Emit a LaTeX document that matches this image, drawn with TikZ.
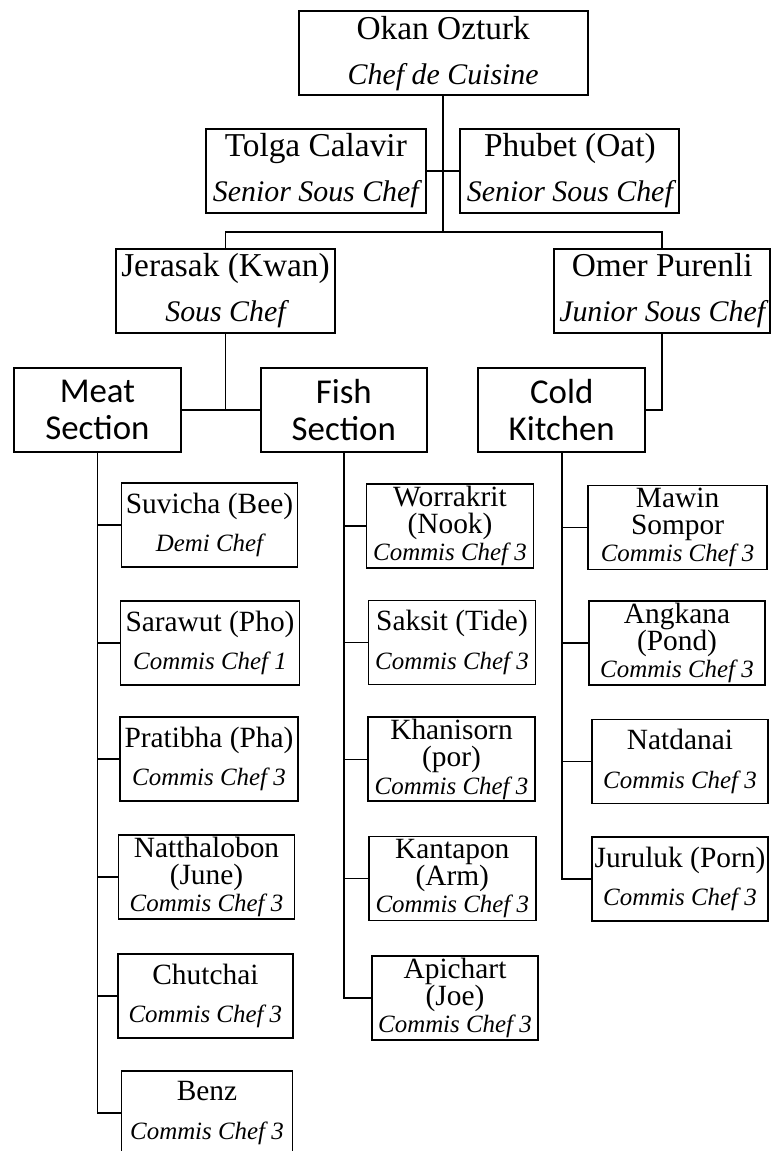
\documentclass[tikz,border=0pt]{standalone}
\usepackage{fontspec}
\setmainfont{Liberation Serif}
\newfontfamily\secfont{Carlito}
\newcommand\PName[1]{{\fontsize{33.5}{45}\selectfont #1}}
\newcommand\PRole[1]{{\fontsize{30}{45}\selectfont\itshape #1}}
\newcommand\QName[1]{{\fontsize{29.5}{38.5}\selectfont #1}}
\newcommand\QRole[1]{{\fontsize{25}{38.5}\selectfont\itshape #1}}
\begin{document}
\begin{tikzpicture}[x=1bp,y=-1bp,
  box/.style={draw, line width=1.9bp, inner sep=0pt, align=center, minimum height=84bp},
  topbox/.style={box, font=\fontsize{30}{45}\selectfont},
  secbox/.style={box, font=\secfont\fontsize{35}{38}\selectfont},
  twoline/.style={box, font=\fontsize{25}{38.5}\selectfont},
  threeline/.style={box, font=\fontsize{25}{27.5}\selectfont},
  conn/.style={line width=1.8bp}]
\useasboundingbox (0,0) rectangle (771,1151);
\fill[white] (0,0) rectangle (771,1151);

% top levels
\node[topbox, minimum width=289bp] (okan) at (443.2,53.2) {\PName{Okan Ozturk}\\\PRole{Chef de Cuisine}};
\node[topbox, minimum width=220bp] (tolga) at (315.8,171) {\PName{Tolga Calavir}\\\PRole{Senior Sous Chef}};
\node[topbox, minimum width=219bp] (phubet) at (569.9,171) {\PName{Phubet (Oat)}\\\PRole{Senior Sous Chef}};
\node[topbox, minimum width=219bp] (jerasak) at (225.5,291) {\PName{Jerasak (Kwan)}\\\PRole{Sous Chef}};
\node[topbox, minimum width=215.6bp] (omer) at (662.2,291) {\PName{Omer Purenli}\\\PRole{Junior Sous Chef}};

% sections
\node[secbox, minimum width=167bp] (meat) at (97.4,410) {Meat\\Section};
\node[secbox, minimum width=166bp] (fish) at (343.8,410) {Fish\\Section};
\node[secbox, minimum width=167bp] (cold) at (561.7,410) {Cold\\Kitchen};

% meat section
\node[twoline, minimum width=176bp] (suvicha) at (209.5,525) {\QName{Suvicha (Bee)}\\\QRole{Demi Chef}};
\node[twoline, minimum width=179bp] (sarawut) at (210,643) {\QName{Sarawut (Pho)}\\\QRole{Commis Chef 1}};
\node[twoline, minimum width=178bp] (pratibha) at (209,758.7) {\QName{Pratibha (Pha)}\\\QRole{Commis Chef 3}};
\node[threeline, minimum width=176bp] (natthalobon) at (206.5,877) {\QName{Natthalobon}\\\QName{(June)}\\\QRole{Commis Chef 3}};
\node[twoline, minimum width=175bp] (chutchai) at (205.4,996) {\QName{Chutchai}\\\QRole{Commis Chef 3}};
\node[twoline, minimum width=171bp] (benz) at (207,1113) {\QName{Benz}\\\QRole{Commis Chef 3}};

% fish section
\node[threeline, minimum width=167bp] (worrakrit) at (450,526) {\QName{Worrakrit}\\\QName{(Nook)}\\\QRole{Commis Chef 3}};
\node[twoline, minimum width=167bp] (saksit) at (452,642.5) {\QName{Saksit (Tide)}\\\QRole{Commis Chef 3}};
\node[threeline, minimum width=167bp] (khanisorn) at (451.5,759.4) {\QName{Khanisorn}\\\QName{(por)}\\\QRole{Commis Chef 3}};
\node[threeline, minimum width=167bp] (kantapon) at (452.3,878.5) {\QName{Kantapon}\\\QName{(Arm)}\\\QRole{Commis Chef 3}};
\node[threeline, minimum width=166bp] (apichart) at (455,998) {\QName{Apichart}\\\QName{(Joe)}\\\QRole{Commis Chef 3}};

% cold kitchen
\node[threeline, minimum width=179.5bp] (mawin) at (677.6,527.5) {\QName{Mawin}\\\QName{Sompor}\\\QRole{Commis Chef 3}};
\node[threeline, minimum width=176.6bp] (angkana) at (677,643) {\QName{Angkana}\\\QName{(Pond)}\\\QRole{Commis Chef 3}};
\node[twoline, minimum width=176bp] (natdanai) at (680,761.5) {\QName{Natdanai}\\\QRole{Commis Chef 3}};
\node[twoline, minimum width=176bp] (juruluk) at (680,879) {\QName{Juruluk (Porn)}\\\QRole{Commis Chef 3}};

% connectors
\coordinate (j1) at (443.2,232);
\draw[conn] (okan.south) -- (j1);
\draw[conn] (tolga.east) -- (phubet.west);
\draw[conn] (jerasak.north) -- (jerasak.north |- j1) -- (omer.north |- j1) -- (omer.north);
\draw[conn] (jerasak.south) -- (jerasak.south |- meat.east);
\draw[conn] (meat.east) -- (fish.west);
\draw[conn] (omer.south) |- (cold.east);

\draw[conn] (meat.south) |- (benz.west);
\foreach \c in {suvicha,sarawut,pratibha,natthalobon,chutchai}
  \draw[conn] (meat.south |- \c.west) -- (\c.west);

\draw[conn] (fish.south) |- (apichart.west);
\foreach \c in {worrakrit,saksit,khanisorn,kantapon}
  \draw[conn] (fish.south |- \c.west) -- (\c.west);

\draw[conn] (cold.south) |- (juruluk.west);
\foreach \c in {mawin,angkana,natdanai}
  \draw[conn] (cold.south |- \c.west) -- (\c.west);
\end{tikzpicture}
\end{document}
